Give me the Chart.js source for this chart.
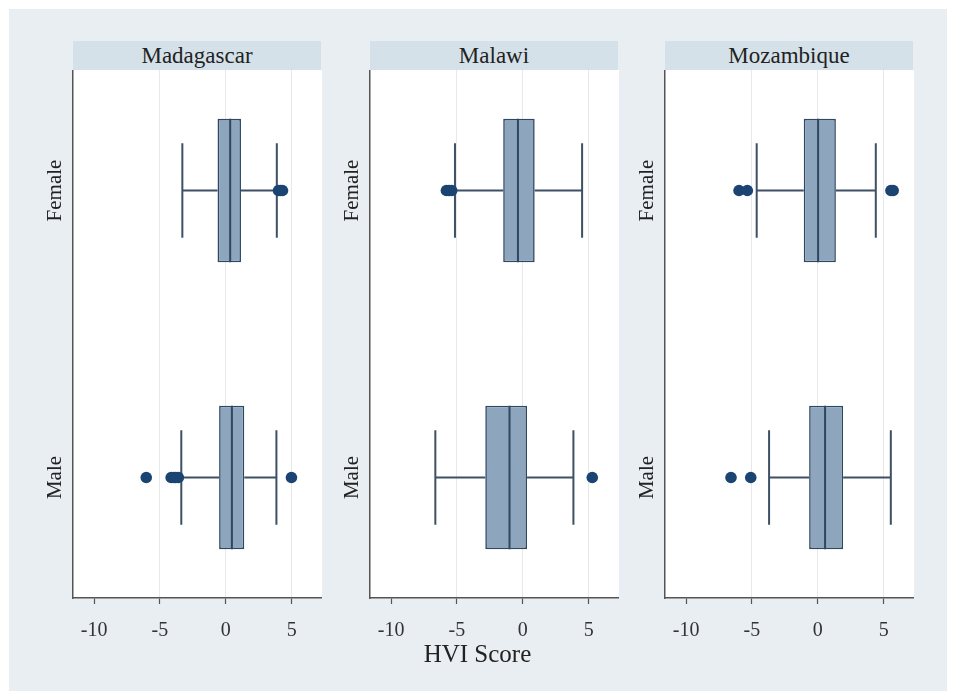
<!DOCTYPE html>
<html><head><meta charset="utf-8">
<script src="https://cdn.jsdelivr.net/npm/chart.js@4.4.0/dist/chart.umd.min.js"></script>
<style>
body{margin:0;background:#fff;width:955px;height:700px;position:relative;overflow:hidden;font-family:"Liberation Serif",serif;}
#bg{position:absolute;left:9px;top:9px;width:938px;height:682px;background:#e9eef2;}
.hdr{position:absolute;top:41px;height:29px;width:248px;background:#d5e1e8;text-align:center;line-height:29px;font-size:23px;color:#222;}
.cv{position:absolute;top:70px;width:297px;height:580px;}
#xt{position:absolute;left:0;width:955px;text-align:center;top:640px;font-size:25px;color:#222;}
</style></head><body>
<div id="bg"></div>
<div class="hdr" style="left:73px">Madagascar</div>
<div class="hdr" style="left:370px">Malawi</div>
<div class="hdr" style="left:665px">Mozambique</div>
<div class="cv" style="left:25px"><canvas id="c0" width="297" height="580"></canvas></div>
<div class="cv" style="left:322px"><canvas id="c1" width="297" height="580"></canvas></div>
<div class="cv" style="left:617px"><canvas id="c2" width="297" height="580"></canvas></div>
<div id="xt">HVI Score</div>
<script>
const countries = ['Madagascar', 'Malawi', 'Mozambique'];
const groups = ['Female', 'Male'];
const groupPos = [1, 2];
const xTicks = [-10, -5, 0, 5];
const lowerWhisker = [[-3.3, -3.38], [-5.15, -6.64], [-4.64, -3.7]];
const q1 = [[-0.63, -0.51], [-1.49, -2.85], [-1.07, -0.66]];
const median = [[0.33, 0.46], [-0.37, -1.01], [0.02, 0.55]];
const q3 = [[1.15, 1.4], [0.9, 0.32], [1.37, 1.92]];
const upperWhisker = [[3.87, 3.84], [4.5, 3.84], [4.4, 5.54]];
const outliers = [
  [[4.0, 4.15, 4.3], [-6.04, -4.15, -3.95, -3.8, -3.6, 4.98]],
  [[-5.8, -5.6, -5.4], [5.27]],
  [[-5.98, -5.35, 5.55, 5.72], [-6.59, -5.09]]
];

const CAP = 0.165, HALF_BOX = 0.25;
const BOX_FILL = '#8ea5be', BOX_LINE = '#2f4862', WHISK = '#3e5064', DOT = '#1b4472';

const bgPlugin = {id: 'plotbg', beforeDraw(c) {
  const a = c.chartArea, ctx = c.ctx;
  ctx.save(); ctx.fillStyle = '#ffffff'; ctx.fillRect(a.left, a.top, a.right - a.left, a.bottom - a.top); ctx.restore();
}};

function makePanel(ci) {
  const wdata = [], mdata = [];
  groupPos.forEach((y, g) => {
    const lw = lowerWhisker[ci][g], uw = upperWhisker[ci][g];
    wdata.push({x: lw, y}, {x: q1[ci][g], y}, {x: null, y: null},
               {x: q3[ci][g], y}, {x: uw, y}, {x: null, y: null},
               {x: lw, y: y - CAP}, {x: lw, y: y + CAP}, {x: null, y: null},
               {x: uw, y: y - CAP}, {x: uw, y: y + CAP}, {x: null, y: null});
    mdata.push({x: median[ci][g], y: y - HALF_BOX}, {x: median[ci][g], y: y + HALF_BOX}, {x: null, y: null});
  });
  const odata = [];
  groupPos.forEach((y, g) => outliers[ci][g].forEach(v => odata.push({x: v, y})));
  new Chart(document.getElementById('c' + ci), {
    type: 'bar',
    data: {datasets: [
      {type: 'line', data: wdata, borderColor: WHISK, borderWidth: 2, pointRadius: 0, fill: false, spanGaps: false, order: 4},
      {type: 'bar', indexAxis: 'y', grouped: false, categoryPercentage: 1, barPercentage: 0.5,
       data: groupPos.map((y, g) => ({x: [q1[ci][g], q3[ci][g]], y})),
       backgroundColor: BOX_FILL, borderColor: BOX_LINE, borderWidth: 1.6, borderSkipped: false, inflateAmount: 0, order: 3},
      {type: 'line', data: mdata, borderColor: BOX_LINE, borderWidth: 2, pointRadius: 0, fill: false, spanGaps: false, order: 2},
      {type: 'scatter', data: odata, pointRadius: 5.8, pointBackgroundColor: DOT, pointBorderWidth: 0, pointHoverRadius: 5.8, order: 1}
    ]},
    options: {
      responsive: false, animation: false, events: [],
      layout: {padding: 0, autoPadding: false},
      plugins: {legend: {display: false}, tooltip: {enabled: false}, title: {display: false}},
      scales: {
        x: {type: 'linear', min: -11.6, max: 7.3, offset: false,
          afterBuildTicks: s => { s.ticks = xTicks.map(v => ({value: v})); },
          afterFit: s => { s.height = 52; s.paddingLeft = 0; s.paddingRight = 0; },
          grid: {offset: false, color: ctx => (ctx.tick && ctx.tick.value === -10) ? 'rgba(0,0,0,0)' : '#e8e8e8', lineWidth: 1,
                 drawTicks: true, tickLength: 6, tickColor: '#555', tickWidth: 1.2},
          border: {display: true, color: '#555', width: 1.5},
          ticks: {maxRotation: 0, minRotation: 0, padding: 15, color: '#333', font: {family: 'Liberation Serif', size: 20}}
        },
        y: {type: 'linear', min: 0.58, max: 2.42, reverse: true, offset: false, beginAtZero: false,
          afterBuildTicks: s => { s.ticks = groupPos.map(v => ({value: v})); },
          afterFit: s => { s.width = 48; s.paddingTop = 0; s.paddingBottom = 0; },
          grid: {display: false, drawTicks: false, offset: false},
          border: {display: true, color: '#555', width: 1.5},
          ticks: {minRotation: 90, maxRotation: 90, crossAlign: 'center', padding: -13, autoSkip: false,
                  color: '#222', font: {family: 'Liberation Serif', size: 21},
                  callback: v => groups[groupPos.indexOf(v)]}
        }
      }
    },
    plugins: [bgPlugin]
  });
}
countries.forEach((c, i) => makePanel(i));
</script>
</body></html>
